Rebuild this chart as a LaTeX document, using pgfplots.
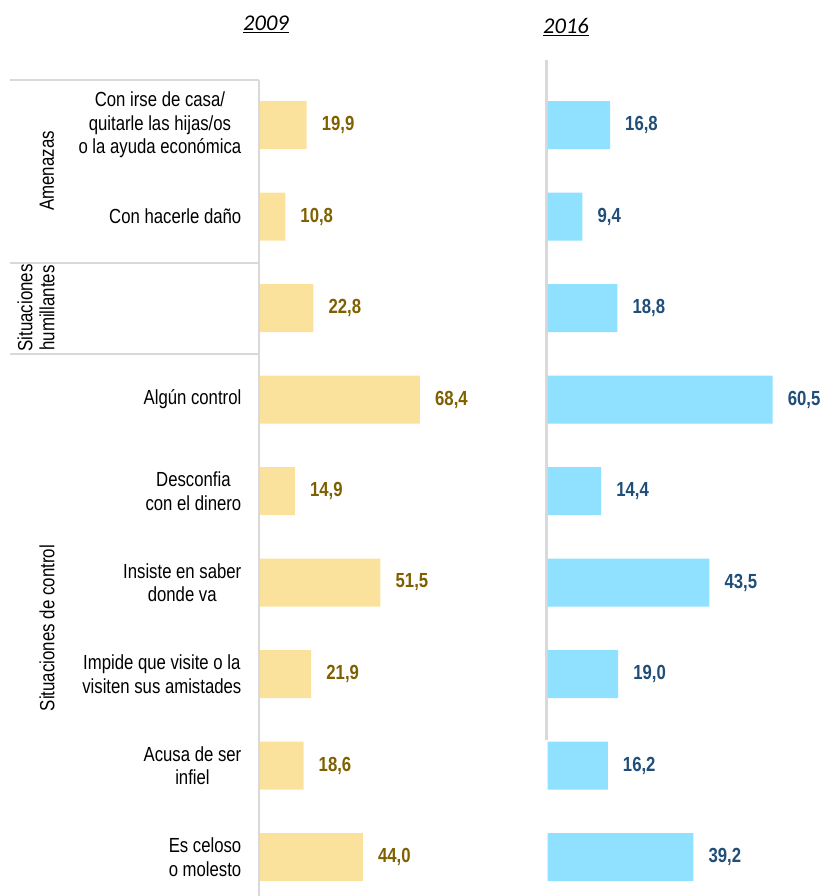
\documentclass[border=0pt]{standalone}
\usepackage{pgfplots}
\pgfplotsset{compat=1.18}
\usepackage{fontspec}
\setmainfont{Liberation Sans}[FakeStretch=0.82]
\newfontfamily\titlefont{Carlito}
\definecolor{bar09}{HTML}{FAE29D}
\definecolor{bar16}{HTML}{8FE1FF}
\definecolor{lab09}{HTML}{7F6000}
\definecolor{lab16}{HTML}{1F4E79}
\definecolor{sepgray}{HTML}{D9D9D9}

\pgfplotstableread{
i v
0 19.9
1 10.8
2 22.8
3 68.4
4 14.9
5 51.5
6 21.9
7 18.6
8 44.0
}\dataA
\pgfplotstableread{
i v
0 16.8
1 9.4
2 18.8
3 60.5
4 14.4
5 43.5
6 19.0
7 16.2
8 39.2
}\dataB

\pgfplotsset{
  panel/.style={
    anchor=south west, scale only axis, height=836pt,
    xbar, bar width=48pt, xmin=0,
    ymin=-0.7104, ymax=8.4262, y dir=reverse,
    axis line style={draw=none}, xtick=\empty,
    major tick length=0pt, clip=false,
    point meta=x,
    nodes near coords={\pgfmathprintnumber[fixed,fixed zerofill,precision=1,use comma,assume math mode=true]{\pgfplotspointmeta}},
    every node near coord/.append style={anchor=west, inner sep=0pt, xshift=15pt,
      font=\fontsize{20.4}{23}\selectfont\bfseries},
  }
}

\begin{document}
\begin{tikzpicture}[x=1pt,y=1pt]
\fontsize{20.4}{23.5}\selectfont
% frame lines
\draw[sepgray, line width=2.2pt] (259,-80) -- (259,-896);
\draw[sepgray, line width=2.2pt] (10,-80) -- (259,-80);
\draw[sepgray, line width=2.2pt] (10,-263) -- (259,-263);
\draw[sepgray, line width=2.2pt] (10,-354) -- (259,-354);
\draw[sepgray, line width=2.2pt] (546.5,-60) -- (546.5,-740);

\begin{axis}[panel,
  at={(260pt,-896pt)}, width=257.3pt, xmax=110,
  ytick={0,...,8},
  yticklabels={{Con irse de casa/\\quitarle las hijas/os\\o la ayuda económica},
    {Con hacerle daño}, {}, {Algún control}, {Desconfia\\con el dinero},
    {Insiste en saber\\donde va}, {Impide que visite o la\\visiten sus amistades},
    {Acusa de ser\\infiel}, {Es celoso\\o molesto}},
  yticklabel style={align=center, anchor=east, inner sep=0pt, xshift=-18.5pt,
    font=\fontsize{20.4}{23.5}\selectfont},
  every node near coord/.append style={text=lab09},
]
\addplot[fill=bar09, draw=none] table[x=v, y=i] {\dataA};
\end{axis}

\begin{axis}[panel,
  at={(547.5pt,-896pt)}, width=279pt, xmax=75,
  ytick=\empty,
  every node near coord/.append style={text=lab16},
]
\addplot[fill=bar16, draw=none] table[x=v, y=i] {\dataB};
\end{axis}

% group labels
\node[rotate=90, font=\fontsize{20.6}{22}\selectfont] at (47,-171) {Amenazas};
\node[rotate=90, align=center, font=\fontsize{20.6}{22}\selectfont] at (36,-308) {Situaciones\\humillantes};
\node[rotate=90, font=\fontsize{20.6}{22}\selectfont] at (47,-628) {Situaciones de control};

% panel titles
\node[font=\titlefont\fontsize{22.5}{24}\selectfont\itshape] at (266,-24) {\underline{2009}};
\node[font=\titlefont\fontsize{22.5}{24}\selectfont\itshape] at (566,-27) {\underline{2016}};

\pgfresetboundingbox
\path[use as bounding box] (0,0) rectangle (825,-896);
\end{tikzpicture}
\end{document}
